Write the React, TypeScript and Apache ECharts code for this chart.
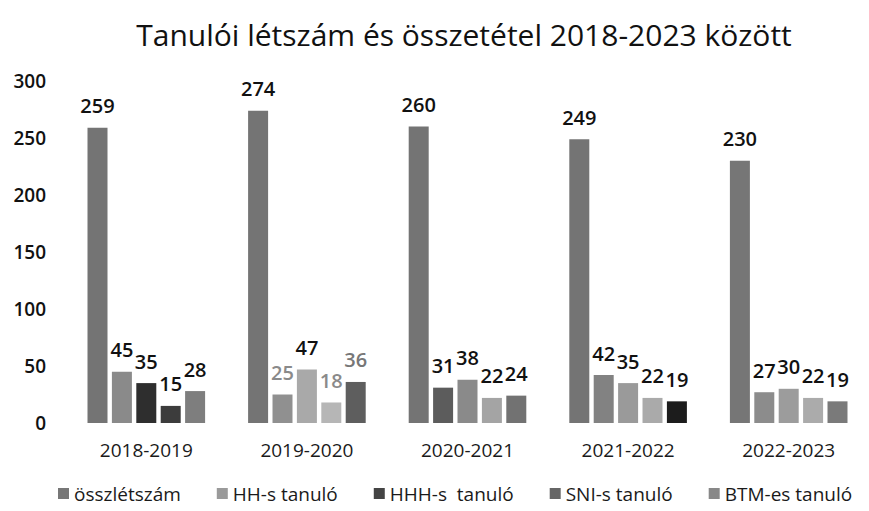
import React, { useEffect, useRef } from "react";
import * as echarts from "echarts";

const years = ["2018-2019", "2019-2020", "2020-2021", "2021-2022", "2022-2023"];
const seriesNames = ["összlétszám", "HH-s tanuló", "HHH-s  tanuló", "SNI-s tanuló", "BTM-es tanuló"];
const osszletszam = [259, 274, 260, 249, 230];
const hhTanulo = [45, 25, 31, 42, 27];
const hhhTanulo = [35, 47, 38, 35, 30];
const sniTanulo = [15, 18, 22, 22, 22];
const btmTanulo = [28, 36, 24, 19, 19];
const yTicks = { min: 0, max: 300, interval: 50 };

// style: per-bar grey tones of the scanned original
const barColors = [
  ["#747474", "#747474", "#747474", "#747474", "#767676"],
  ["#8a8a8a", "#909090", "#5c5c5c", "#828282", "#8c8c8c"],
  ["#2e2e2e", "#a9a9a9", "#8a8a8a", "#9a9a9a", "#9c9c9c"],
  ["#3c3c3c", "#b6b6b6", "#a4a4a4", "#aaaaaa", "#ababab"],
  ["#7e7e7e", "#5e5e5e", "#727272", "#1c1c1c", "#7a7a7a"],
];
const labelColors = [
  ["#111", "#111", "#111", "#111", "#111"],
  ["#111", "#8a8a8a", "#111", "#111", "#111"],
  ["#111", "#111", "#111", "#111", "#111"],
  ["#111", "#8a8a8a", "#111", "#111", "#111"],
  ["#111", "#777", "#111", "#111", "#111"],
];
const legendColors = ["#777777", "#9a9a9a", "#444444", "#666666", "#888888"];

const allData = [osszletszam, hhTanulo, hhhTanulo, sniTanulo, btmTanulo];

export default function App() {
  const ref = useRef<HTMLDivElement>(null);
  useEffect(() => {
    if (!ref.current) return;
    const chart = echarts.init(ref.current, null, { renderer: "svg" });
    const font = "'Open Sans', sans-serif";
    chart.setOption({
      animation: false,
      textStyle: { fontFamily: font },
      title: {
        text: "Tanulói létszám és összetétel 2018-2023 között",
        left: 459,
        textAlign: "center",
        top: 14,
        textStyle: { fontFamily: font, fontSize: 30, fontWeight: 400, color: "#111" },
      },
      legend: {
        bottom: 3,
        left: 53,
        itemWidth: 11,
        itemHeight: 11,
        itemGap: 36,
        icon: "rect",
        textStyle: { fontFamily: font, fontSize: 19, color: "#1a1a1a" },
        data: seriesNames.map((n, i) => ({ name: n, itemStyle: { color: legendColors[i] } })),
      },
      grid: { left: 66, top: 81, width: 822, height: 342, containLabel: false },
      xAxis: {
        type: "category",
        data: years,
        axisLine: { show: false },
        axisTick: { show: false },
        axisLabel: { fontFamily: font, fontSize: 19, color: "#1a1a1a", margin: 17 },
      },
      yAxis: {
        type: "value",
        min: yTicks.min,
        max: yTicks.max,
        interval: yTicks.interval,
        splitLine: { show: false },
        axisLine: { show: false },
        axisTick: { show: false },
        axisLabel: { fontFamily: font, fontSize: 19, fontWeight: 600, color: "#111", margin: 20 },
      },
      series: allData.map((vals, si) => ({
        name: seriesNames[si],
        type: "bar",
        barWidth: 20,
        barGap: "22%",
        itemStyle: { color: legendColors[si] },
        data: vals.map((v, ci) => ({
          value: v,
          itemStyle: { color: barColors[si][ci] },
          label: { color: labelColors[si][ci] },
        })),
        label: {
          show: true,
          position: "top",
          distance: 12,
          fontFamily: font,
          fontSize: 20,
          fontWeight: 600,
          color: "#111",
        },
      })),
    });
    return () => chart.dispose();
  }, []);
  return (
    <div
      ref={ref}
      style={{ position: "absolute", left: 0, top: 0, width: 869, height: 511, background: "#fff" }}
    />
  );
}
